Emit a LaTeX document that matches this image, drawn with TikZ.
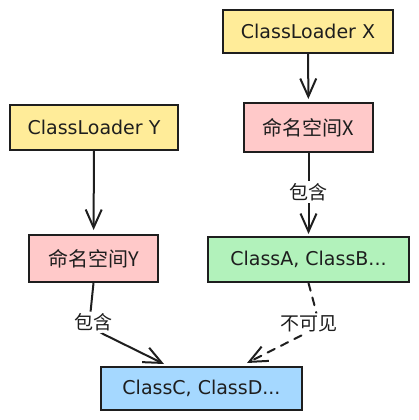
\documentclass[tikz,border=0pt]{standalone}
\usepackage{fontspec}
\setmainfont{DejaVu Sans}
\newfontfamily\cjk{Noto Sans CJK SC}
\usetikzlibrary{arrows.meta}
\definecolor{ink}{HTML}{1E1E1E}
\definecolor{yel}{HTML}{FFEC99}
\definecolor{pnk}{HTML}{FFC9C9}
\definecolor{grn}{HTML}{B2F2BB}
\definecolor{blu}{HTML}{A5D8FF}
\begin{document}
\begin{tikzpicture}[x=1pt,y=-1pt,
  box/.style={draw=ink, line width=2pt, inner sep=0pt, text=ink, font=\fontsize{19}{19}\selectfont},
  cjkf/.style={font=\cjk\fontsize{20}{20}\selectfont},
  arr/.style={draw=ink, line width=2pt, line cap=round, -{Straight Barb[length=18pt,width=16pt,line width=2pt]}},
  dsh/.style={dash pattern=on 8pt off 7pt},
  lbl/.style={fill=white, inner sep=2pt, text=ink, font=\cjk\fontsize{19}{19}\selectfont}]
\useasboundingbox (0,0) rectangle (418,420);
\node[box, fill=yel, minimum width=170pt, minimum height=43pt] (lx) at (308,31.5) {ClassLoader X};
\node[box, fill=pnk, minimum width=129pt, minimum height=49pt, cjkf] (nx) at (308.5,127.5) {命名空间X};
\node[box, fill=yel, minimum width=168pt, minimum height=45pt] (ly) at (94,127.5) {ClassLoader Y};
\node[box, fill=pnk, minimum width=129pt, minimum height=47pt, cjkf] (ny) at (93.5,258.5) {命名空间Y};
\node[box, fill=grn, minimum width=201pt, minimum height=45pt] (ca) at (308.5,259.5) {ClassA, ClassB...};
\node[box, fill=blu, minimum width=201pt, minimum height=43pt] (cc) at (201.5,388.5) {ClassC, ClassD...};
\coordinate (ccL) at (164,364);
\coordinate (ccR) at (247,363);
\draw[arr, shorten >=3pt] (lx) -- (nx);
\draw[arr, shorten >=4pt] (ly) -- (ny);
\draw[arr, shorten >=2pt] (nx) -- node[lbl, pos=0.47]{包含} (ca);
\draw[arr, rounded corners=16pt] (ny.south) -- (89,327) node[lbl, xshift=4.5pt, yshift=4.5pt]{包含} -- (ccL);
\draw[arr, dsh, rounded corners=16pt] (ca.south) -- (320,326) node[lbl, xshift=-11.5pt, yshift=2.5pt]{不可见} -- (ccR);
\end{tikzpicture}
\end{document}
